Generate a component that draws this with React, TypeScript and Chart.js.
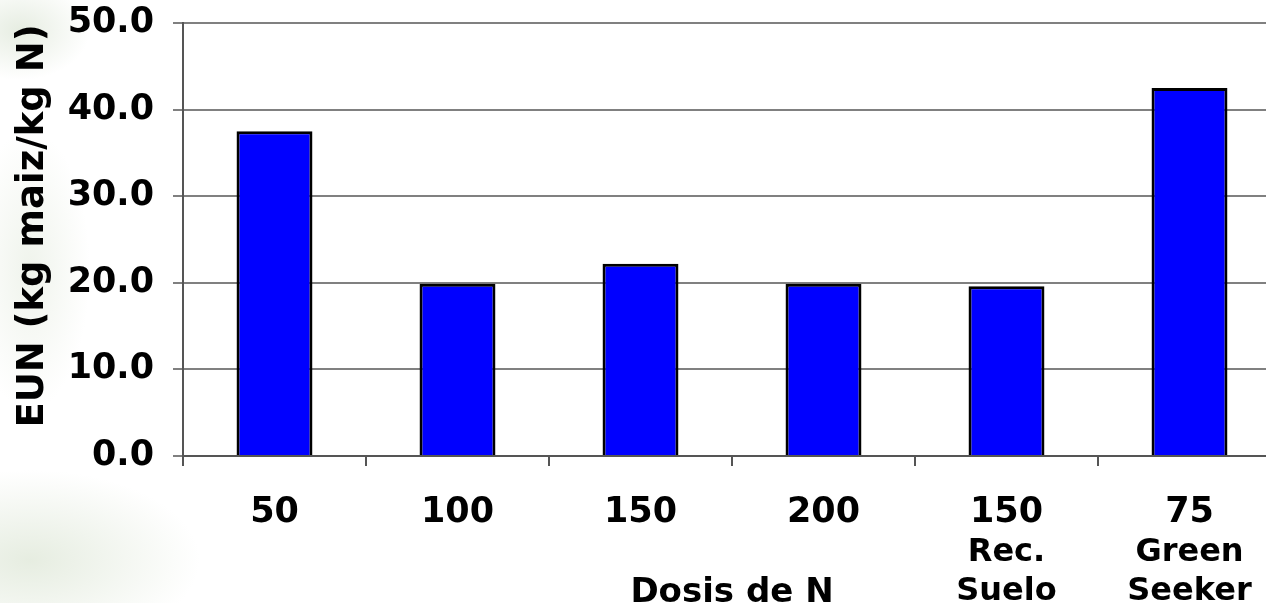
import React, { useEffect, useRef } from "react";
import { Chart, registerables } from "chart.js";

Chart.register(...registerables);

const categories = ["50", "100", "150", "200", "150", "75"];
const subLabels: string[][] = [[], [], [], [], ["Rec.", "Suelo"], ["Green", "Seeker"]];
const eunValues = [37.5, 19.9, 22.2, 19.9, 19.6, 42.5];
const yTicks = [0, 10, 20, 30, 40, 50];
const yTitle = "EUN (kg maiz/kg N)";
const xTitle = "Dosis de N";

const FONT = "'DejaVu Sans', Verdana, sans-serif";

export default function App() {
  const ref = useRef<HTMLCanvasElement | null>(null);

  useEffect(() => {
    if (!ref.current) return;
    const whiteArea = {
      id: "whiteArea",
      beforeDraw(chart: any) {
        const { ctx, chartArea } = chart;
        ctx.save();
        ctx.fillStyle = "#ffffff";
        ctx.fillRect(chartArea.left, chartArea.top, chartArea.right - chartArea.left, chartArea.bottom - chartArea.top);
        ctx.restore();
      },
    };
    const textPlugin = {
      id: "extraText",
      afterDraw(chart: any) {
        const { ctx, chartArea } = chart;
        const xs = chart.scales.x;
        ctx.save();
        ctx.fillStyle = "#000";
        ctx.font = `bold 32px ${FONT}`;
        ctx.textAlign = "center";
        ctx.textBaseline = "alphabetic";
        subLabels.forEach((lines, i) => {
          const x = xs.getPixelForValue(i);
          lines.forEach((t, j) => {
            ctx.fillText(t, x, chartArea.bottom + 105 + j * 39);
          });
        });
        // x title
        ctx.font = `bold 34px ${FONT}`;
        ctx.fillText(xTitle, (chartArea.left + chartArea.right) / 2, chartArea.bottom + 146);
        // y title
        ctx.translate(43, 226);
        ctx.rotate(-Math.PI / 2);
        ctx.font = `bold 37px ${FONT}`;
        ctx.fillText(yTitle, 0, 0);
        ctx.restore();
      },
    };
    const chart = new Chart(ref.current, {
      type: "bar",
      data: {
        labels: categories,
        datasets: [
          {
            data: eunValues,
            backgroundColor: "#0000ff",
            borderColor: "#000000",
            borderWidth: 3,
            barPercentage: 0.415,
            categoryPercentage: 1,
          },
        ],
      },
      options: {
        responsive: false,
        animation: false,
        layout: { padding: { top: 23, left: 0, right: 19, bottom: 0 } },
        plugins: { legend: { display: false }, tooltip: { enabled: false } },
        scales: {
          x: {
            afterFit: (s: any) => {
              s.height = 164;
              s.paddingLeft = 0;
              s.paddingRight = 0;
            },
            grid: {
              display: true,
              drawOnChartArea: false,
              drawTicks: true,
              tickLength: 10,
              color: "#555555",
              lineWidth: 2,
            },
            border: { display: true, color: "#555555", width: 2 },
            ticks: {
              color: "#000",
              font: { family: FONT, size: 35, weight: "bold" },
              padding: 26,
              maxRotation: 0,
              autoSkip: false,
            },
          },
          y: {
            min: 0,
            max: 50,
            afterFit: (s: any) => {
              s.width = 183;
              s.paddingTop = 0;
              s.paddingBottom = 0;
            },
            afterBuildTicks: (s: any) => {
              s.ticks = yTicks.map((v) => ({ value: v }));
            },
            grid: {
              color: "#808080",
              lineWidth: 2,
              drawTicks: true,
              tickLength: 10,
            },
            border: { display: true, color: "#555555", width: 2 },
            ticks: {
              color: "#000",
              font: { family: FONT, size: 35, weight: "bold" },
              padding: 19,
              callback: (v: any) => Number(v).toFixed(1),
            },
          },
        },
      },
      plugins: [whiteArea, textPlugin],
    });
    return () => chart.destroy();
  }, []);

  return (
    <div
      style={{
        position: "fixed",
        left: 0,
        top: 0,
        width: 1266,
        height: 603,
        overflow: "hidden",
        background:
          "radial-gradient(ellipse 70px 50px at 20px 30px, rgba(200,215,190,0.45), rgba(255,255,255,0) 100%)," +
          "radial-gradient(ellipse 60px 140px at 30px 270px, rgba(210,222,200,0.35), rgba(255,255,255,0) 100%)," +
          "radial-gradient(ellipse 170px 90px at 30px 560px, rgba(200,215,188,0.45), rgba(255,255,255,0) 100%)," +
          "#ffffff",
      }}
    >
      <canvas ref={ref} width={1300} height={620} style={{ display: "block" }} />
    </div>
  );
}
